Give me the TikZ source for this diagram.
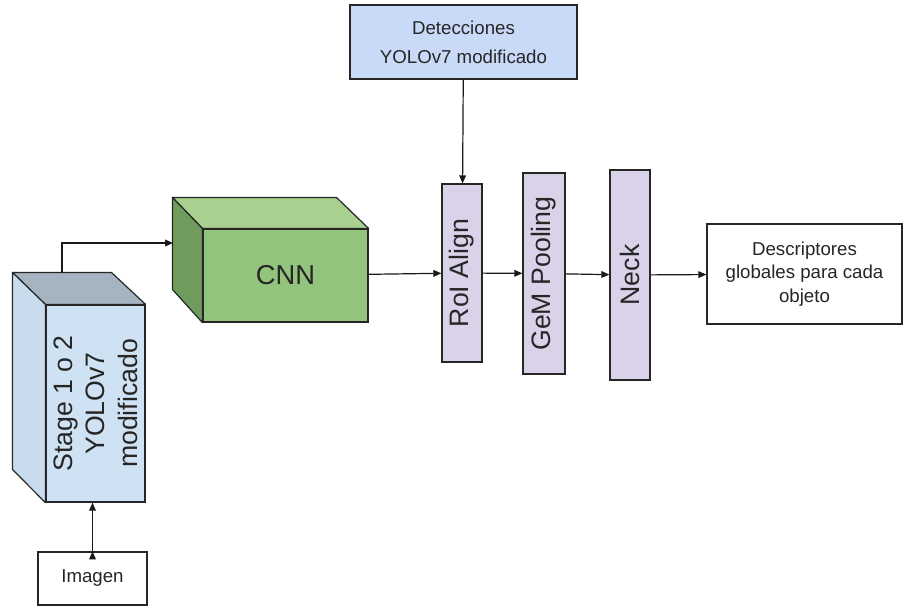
\documentclass[tikz,border=0pt]{standalone}
\usepackage{fontspec}
\setmainfont{Liberation Sans}
\usepackage{xcolor}
\usetikzlibrary{arrows.meta}

\definecolor{stageblue}{HTML}{CFE2F3}
\definecolor{stageside}{HTML}{C9DCEE}
\definecolor{stagetop}{HTML}{A6B4C2}
\definecolor{cnngreen}{HTML}{93C47D}
\definecolor{cnnside}{HTML}{6F9B5C}
\definecolor{cnntop}{HTML}{A9D08E}
\definecolor{detblue}{HTML}{C9DAF8}
\definecolor{layerpurple}{HTML}{D9D2E9}

\begin{document}
\begin{tikzpicture}[x=0.75pt, y=-0.75pt,
        >={Triangle[length=6pt, width=5pt]},
        box/.style={draw=black!85, line width=0.9pt, inner sep=0pt, text=black!85},
        face/.style={draw=black!85, line width=0.9pt, line join=round},
        layer/.style={box, fill=layerpurple, rotate=90, font=\fontsize{20}{24}\selectfont}]
    \useasboundingbox (0,0) rectangle (904,607);

    % 3D blocks
    \begin{scope}[every node/.style={box}]
        \node[fill=stageblue, minimum width=74.25pt, minimum height=147.75pt] (stage) at (95.5,403.5) {};
        \node[fill=cnngreen, minimum width=123.75pt, minimum height=69.75pt,
              font=\fontsize{20.5}{24}\selectfont] (cnn) at (285.5,275.5) {CNN};
    \end{scope}

    \filldraw[face, fill=stagetop] (stage.north west) -- ++(-33,-32) -- ++(99,0) -- (stage.north east) -- cycle;
    \filldraw[face, fill=stageside] (stage.north west) -- ++(-33,-32) -- ++(0,197) -- (stage.south west) -- cycle;
    \filldraw[face, fill=cnntop] (cnn.north west) -- ++(-30,-31) -- ++(164,0) -- (cnn.north east) -- cycle;
    \filldraw[face, fill=cnnside] (cnn.north west) -- ++(-30,-31) -- ++(0,92) -- (cnn.south west) -- cycle;

    \node[rotate=90, align=center, text=black!85, font=\fontsize{20}{24.5}\selectfont]
        (stagetext) at (stage.center) {Stage 1 o 2\\YOLOv7\\modificado};

    \coordinate (stagetop) at (62,273);
    \coordinate (cnnleft) at (173,243);

    % boxes
    \begin{scope}[every node/.style={box, align=center}]
        \node[fill=detblue, minimum width=170.25pt, minimum height=55.5pt,
              font=\fontsize{14}{22}\selectfont] (det) at (463.5,42) {Detecciones\\YOLOv7 modificado};
        \node[fill=white, minimum width=146.25pt, minimum height=75pt,
              font=\fontsize{14}{17.5}\selectfont] (desc) at (804.5,274) {Descriptores\\globales para cada\\objeto};
        \node[fill=white, minimum width=81.75pt, minimum height=39.75pt,
              font=\fontsize{14}{17}\selectfont] (img) at (92.5,578.5) {Imagen};
    \end{scope}

    \node[layer, minimum width=133.5pt, minimum height=30pt] (roi) at (462,273) {RoI Align};
    \node[layer, minimum width=150.75pt, minimum height=31.5pt] (gem) at (544,273.5) {GeM Pooling};
    \node[layer, minimum width=157.5pt, minimum height=30pt] (neck) at (630,275) {Neck};

    % connections
    \begin{scope}[every path/.style={draw=black!90, line width=0.9pt}]
        \path [->] (img.north) edge (img.north |- stage.south);
        \draw [->] (stagetop) |- (cnnleft);
        \path [->] (cnn) edge (roi);
        \path [->] (det) edge (roi);
        \path [->] (roi) edge (gem);
        \path [->] (gem) edge (neck);
        \path [->] (neck) edge (desc);
    \end{scope}
\end{tikzpicture}
\end{document}
